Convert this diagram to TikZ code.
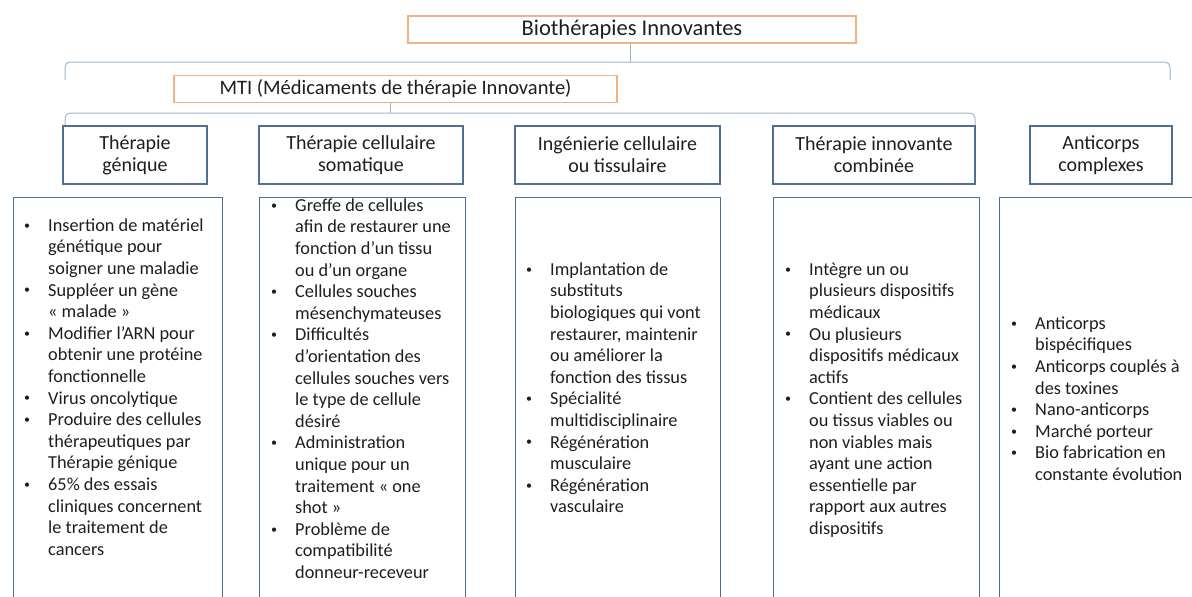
\documentclass[tikz,border=0pt]{standalone}
\usepackage{fontspec}
\setmainfont{Carlito}
\usepackage{array}
\definecolor{orangeb}{HTML}{F4B183}
\definecolor{blueb}{HTML}{4F6F96}
\definecolor{brk}{HTML}{9FB4CC}
\definecolor{txt}{HTML}{1E1E1E}
\newcommand\bul{\hspace{1pt}\raisebox{2.2pt}{\fontsize{12}{12}\selectfont\textbullet}}
\newcommand\blist[1]{\begin{tabular}{@{}p{25pt}@{}l@{}}#1\end{tabular}}
\tikzset{
  base/.style={font=\fontsize{18.3}{21.6}\selectfont, text=txt},
  topbox/.style={text=txt, draw=orangeb, line width=1.2pt, inner sep=0pt},
  headbox/.style={text=txt, font=\fontsize{20}{22}\selectfont, draw=blueb, line width=1.2pt, minimum height=58pt, align=center, inner sep=0pt},
  contentbox/.style={draw=blueb, line width=1.2pt, inner sep=0pt, anchor=north west, minimum height=430pt},
  listtext/.style={base, anchor=north west, inner sep=0pt},
  bracket/.style={draw=brk, line width=1pt, rounded corners=5pt},
}
\begin{document}
\begin{tikzpicture}[x=1pt,y=-1pt]
\useasboundingbox (0,0) rectangle (1192,597);
% top boxes
\node[topbox, font=\fontsize{22.5}{24}\selectfont, minimum width=448pt, minimum height=27pt] (bio) at (632,29.5) {Biothérapies Innovantes};
\node[topbox, font=\fontsize{20.5}{22}\selectfont, minimum width=443pt, minimum height=27pt] (mti) at (395.5,89) {MTI (Médicaments de thérapie Innovante)};
% brackets
\coordinate (bl) at (65,80);
\coordinate (br) at (1170,80);
\coordinate (bm) at (630,62);
\draw[bracket] (bl) -- (65,62) -- (1170,62) -- (br);
\draw[brk, line width=1pt] (bm) -- (bio.south -| bm);
\coordinate (ml) at (65,125);
\coordinate (mr) at (975,125);
\coordinate (mm) at (390,113);
\draw[bracket] (ml) -- (65,113) -- (975,113) -- (mr);
\draw[brk, line width=1pt] (mm) -- (mti.south -| mm);
% headers
\node[headbox, minimum width=144pt] (h1) at (135,155) {Thérapie\\génique};
\node[headbox, minimum width=204pt] (h2) at (361,155) {Thérapie cellulaire\\somatique};
\node[headbox, minimum width=205pt] (h3) at (617.5,155) {Ingénierie cellulaire\\ou tissulaire};
\node[headbox, minimum width=202pt] (h4) at (874,155) {Thérapie innovante\\combinée};
\node[headbox, minimum width=142pt] (h5) at (1101,155) {Anticorps\\complexes};
% content boxes
\node[contentbox, minimum width=209pt] (c1) at (13,197) {};
\node[contentbox, minimum width=206pt] (c2) at (259,197) {};
\node[contentbox, minimum width=205pt] (c3) at (515,197) {};
\node[contentbox, minimum width=206pt] (c4) at (773,197) {};
\node[contentbox, minimum width=220pt] (c5) at (999,197) {};
% texts
\node[listtext] (t1) at (23,216) {\blist{%
\bul & Insertion de matériel\\
 & génétique pour\\
 & soigner une maladie\\
\bul & Suppléer un gène\\
 & « malade »\\
\bul & Modifier l’ARN pour\\
 & obtenir une protéine\\
 & fonctionnelle\\
\bul & Virus oncolytique\\
\bul & Produire des cellules\\
 & thérapeutiques par\\
 & Thérapie génique\\
\bul & 65\% des essais\\
 & cliniques concernent\\
 & le traitement de\\
 & cancers}};
\node[listtext] (t2) at (270,196) {\blist{%
\bul & Greffe de cellules\\
 & afin de restaurer une\\
 & fonction d’un tissu\\
 & ou d’un organe\\
\bul & Cellules souches\\
 & mésenchymateuses\\
\bul & Difficultés\\
 & d’orientation des\\
 & cellules souches vers\\
 & le type de cellule\\
 & désiré\\
\bul & Administration\\
 & unique pour un\\
 & traitement « one\\
 & shot »\\
\bul & Problème de\\
 & compatibilité\\
 & donneur-receveur}};
\node[listtext] (t3) at (525,260) {\blist{%
\bul & Implantation de\\
 & substituts\\
 & biologiques qui vont\\
 & restaurer, maintenir\\
 & ou améliorer la\\
 & fonction des tissus\\
\bul & Spécialité\\
 & multidisciplinaire\\
\bul & Régénération\\
 & musculaire\\
\bul & Régénération\\
 & vasculaire}};
\node[listtext] (t4) at (784,260) {\blist{%
\bul & Intègre un ou\\
 & plusieurs dispositifs\\
 & médicaux\\
\bul & Ou plusieurs\\
 & dispositifs médicaux\\
 & actifs\\
\bul & Contient des cellules\\
 & ou tissus viables ou\\
 & non viables mais\\
 & ayant une action\\
 & essentielle par\\
 & rapport aux autres\\
 & dispositifs}};
\node[listtext] (t5) at (1010,314) {\blist{%
\bul & Anticorps\\
 & bispécifiques\\
\bul & Anticorps couplés à\\
 & des toxines\\
\bul & Nano-anticorps\\
\bul & Marché porteur\\
\bul & Bio fabrication en\\
 & constante évolution}};
\end{tikzpicture}
\end{document}
